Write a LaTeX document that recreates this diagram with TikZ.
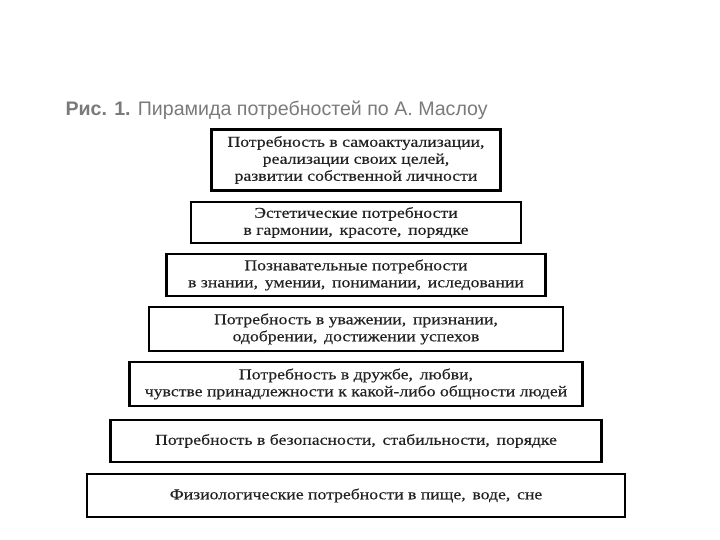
\documentclass[tikz,border=0pt]{standalone}
\usepackage{fontspec}
\setmainfont[FakeStretch=1.18,FakeBold=0.35]{Liberation Serif}
\newfontfamily\captionfont{Liberation Sans}
\definecolor{captiongray}{HTML}{7A7A7A}
\definecolor{inkgray}{HTML}{222222}
\newcommand{\csp}{\hspace{0.45em}}
\begin{document}
\begin{tikzpicture}[x=1pt,y=-1pt,
  level/.style={draw=black,line width=2.4pt,rectangle,inner sep=0pt,align=center,
    text=inkgray,font=\fontsize{15}{17}\selectfont}]
\useasboundingbox (0,0) rectangle (720,540);

\node[anchor=base west,text=captiongray,font=\captionfont\fontsize{19.6}{23}\selectfont]
  (caption) at (62,116) {\textbf{Рис. 1.} Пирамида потребностей по А. Маслоу};

\node[level,minimum width=289,minimum height=61] (selfact) at (356,160)
  {Потребность в самоактуализации,\\реализации своих целей,\\развитии собственной личности};
\node[level,minimum width=330,minimum height=41] (aesth) at (356,222.5)
  {Эстетические потребности\\в гармонии,\csp красоте,\csp порядке};
\node[level,minimum width=379,minimum height=42] (cogn) at (356,275)
  {Познавательные потребности\\в знании,\csp умении,\csp понимании,\csp иследовании};
\node[level,minimum width=414,minimum height=44] (esteem) at (356,329)
  {Потребность в уважении,\csp признании,\\одобрении,\csp достижении успехов};
\node[level,minimum width=453,minimum height=44] (love) at (356,384)
  {Потребность в дружбе,\csp любви,\\чувстве принадлежности к какой-либо общности людей};
\node[level,minimum width=491,minimum height=41.5] (safety) at (356,441)
  {Потребность в безопасности,\csp стабильности,\csp порядке};
\node[level,minimum width=538,minimum height=43] (physio) at (356,495.5)
  {Физиологические потребности в пище,\csp воде,\csp сне};
\end{tikzpicture}
\end{document}
